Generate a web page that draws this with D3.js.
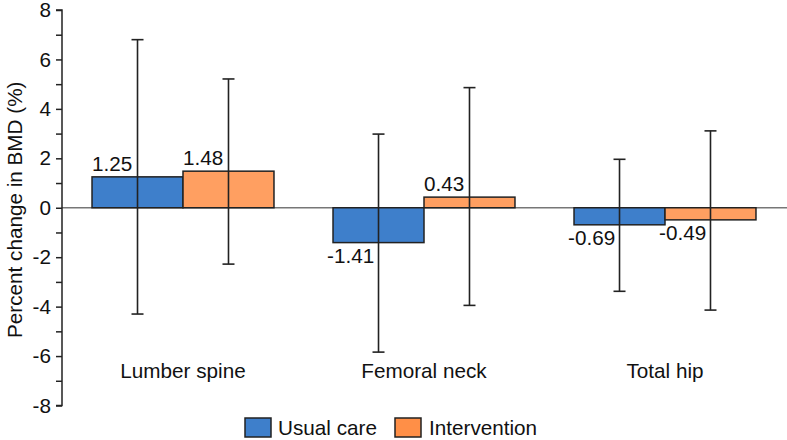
<!DOCTYPE html>
<html>
<head>
<meta charset="utf-8">
<script src="https://cdn.jsdelivr.net/npm/d3@7"></script>
<style>
html,body{margin:0;padding:0;background:#fff;}
svg{display:block;font-family:"Liberation Sans",Arial,sans-serif;}
</style>
</head>
<body>
<svg id="chart" width="787" height="440"></svg>
<script>
const categories = ["Lumber spine", "Femoral neck", "Total hip"];
const seriesNames = ["Usual care", "Intervention"];
const usualCare = [1.25, -1.41, -0.69];
const intervention = [1.48, 0.43, -0.49];
const usualCareUpper = [6.8, 2.98, 1.96];
const usualCareLower = [-4.3, -5.84, -3.38];
const interventionUpper = [5.21, 4.86, 3.11];
const interventionLower = [-2.28, -3.95, -4.14];
const yTicks = [-8, -6, -4, -2, 0, 2, 4, 6, 8];
const yMinorTicks = [-7, -5, -3, -1, 1, 3, 5, 7];
const barColors = ["#3E7FCB", "#FF9F61"];
const legendColors = ["#3E7FCB", "#FF8F47"];

const FS = 20.7;
const svg = d3.select("#chart");
const axisX = 62;
const y = d3.scaleLinear().domain([-8, 8]).range([405.5, 10]);
const x0 = d3.scaleBand().domain(categories).range([62.5, 785.5])
  .paddingInner(0.245).paddingOuter(0.1225);
const x1 = d3.scaleBand().domain(seriesNames).range([0, x0.bandwidth()]);

const values = [usualCare, intervention];
const uppers = [usualCareUpper, interventionUpper];
const lowers = [usualCareLower, interventionLower];

// zero line
svg.append("line")
  .attr("x1", axisX).attr("x2", 787)
  .attr("y1", y(0)).attr("y2", y(0))
  .attr("stroke", "#777").attr("stroke-width", 1.5);

// y axis
const yAxis = d3.axisLeft(y).tickValues(yTicks).tickSize(6).tickPadding(5).tickFormat(d => String(d));
const gy = svg.append("g").attr("transform", `translate(${axisX},0)`).call(yAxis);
gy.select(".domain").attr("stroke", "#222").attr("stroke-width", 1.5).attr("d", `M-6,${y(8)}H0V${y(-8)}H-6`);
gy.selectAll(".tick line").attr("stroke", "#222").attr("stroke-width", 1.5);
gy.selectAll(".tick text").attr("font-size", FS).attr("fill", "#111")
  .attr("font-family", '"Liberation Sans",Arial,sans-serif');
const gMinor = svg.append("g").attr("transform", `translate(${axisX},0)`)
  .call(d3.axisLeft(y).tickValues(yMinorTicks).tickSize(6).tickFormat(""));
gMinor.select(".domain").remove();
gMinor.selectAll(".tick line").attr("stroke", "#222").attr("stroke-width", 1.5);

// y label
svg.append("text")
  .attr("transform", `translate(22,${(y(8)+y(-8))/2 + 2}) rotate(-90)`)
  .attr("text-anchor", "middle").attr("font-size", FS).attr("fill", "#111")
  .text("Percent change in BMD (%)");

// bars
seriesNames.forEach((s, si) => {
  const g = svg.append("g");
  categories.forEach((c, ci) => {
    const v = values[si][ci];
    const bx = x0(c) + x1(s);
    g.append("rect")
      .attr("x", bx).attr("width", x1.bandwidth())
      .attr("y", y(Math.max(0, v))).attr("height", Math.abs(y(v) - y(0)))
      .attr("fill", barColors[si]).attr("stroke", "#222").attr("stroke-width", 1.5);
  });
});

// error bars
seriesNames.forEach((s, si) => {
  categories.forEach((c, ci) => {
    const cx = x0(c) + x1(s) + x1.bandwidth() / 2;
    const up = y(uppers[si][ci]), lo = y(lowers[si][ci]);
    const g = svg.append("g").attr("stroke", "#222").attr("stroke-width", 1.6);
    g.append("line").attr("x1", cx).attr("x2", cx).attr("y1", up).attr("y2", lo);
    g.append("line").attr("x1", cx - 6).attr("x2", cx + 6).attr("y1", up).attr("y2", up);
    g.append("line").attr("x1", cx - 6).attr("x2", cx + 6).attr("y1", lo).attr("y2", lo);
  });
});

// value labels
seriesNames.forEach((s, si) => {
  categories.forEach((c, ci) => {
    const v = values[si][ci];
    const bx = x0(c) + x1(s);
    svg.append("text")
      .attr("x", v >= 0 ? bx : bx - 6)
      .attr("y", v >= 0 ? y(v) - 6 : y(v) + 20)
      .attr("font-size", FS).attr("fill", "#111")
      .text(v.toFixed(2));
  });
});

// category labels
categories.forEach(c => {
  svg.append("text")
    .attr("x", x0(c) + x0.bandwidth() / 2).attr("y", 378)
    .attr("text-anchor", "middle").attr("font-size", FS).attr("fill", "#111")
    .text(c);
});

// legend
const legendItems = [{x: 245, tx: 278}, {x: 395, tx: 429}];
seriesNames.forEach((s, si) => {
  svg.append("rect")
    .attr("x", legendItems[si].x).attr("y", 418).attr("width", 26).attr("height", 19)
    .attr("fill", legendColors[si]).attr("stroke", "#222").attr("stroke-width", 1.5);
  svg.append("text")
    .attr("x", legendItems[si].tx).attr("y", 435)
    .attr("font-size", FS).attr("fill", "#111").text(s);
});
</script>
</body>
</html>
